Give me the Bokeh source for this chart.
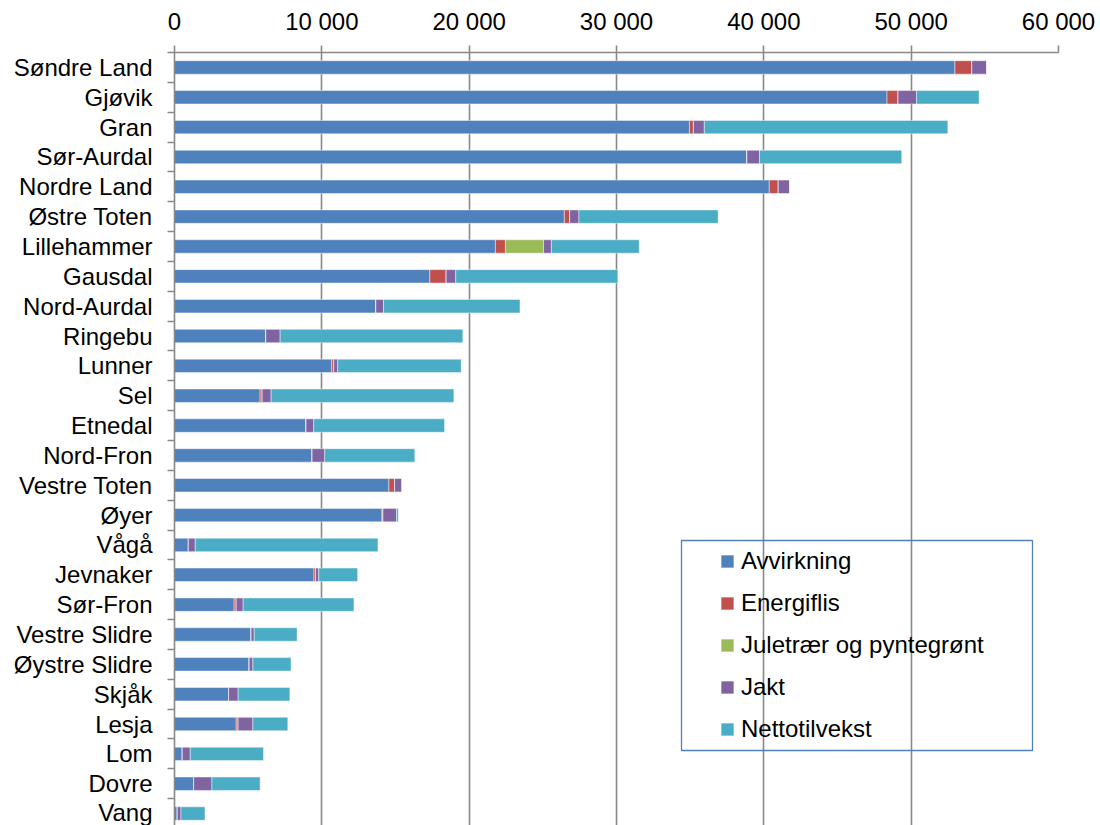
from bokeh.plotting import figure
from bokeh.models import (ColumnDataSource, Range1d, FixedTicker, Legend, LegendItem,
                          BoxAnnotation)
from bokeh.embed import file_html
from bokeh.resources import INLINE

categories = ["Søndre Land", "Gjøvik", "Gran", "Sør-Aurdal", "Nordre Land", "Østre Toten",
              "Lillehammer", "Gausdal", "Nord-Aurdal", "Ringebu", "Lunner", "Sel", "Etnedal",
              "Nord-Fron", "Vestre Toten", "Øyer", "Vågå", "Jevnaker", "Sør-Fron",
              "Vestre Slidre", "Øystre Slidre", "Skjåk", "Lesja", "Lom", "Dovre", "Vang"]

avvirkning = [52970, 48360, 34950, 38850, 40370, 26460, 21780, 17330, 13670, 6200, 10670, 5810,
              8930, 9340, 14550, 14080, 940, 9470, 4050, 5200, 5070, 3670, 4190, 530, 1300, 190]
energiflis = [1150, 750, 270, 0, 610, 360, 680, 1110, 0, 0, 140, 140, 0, 0, 390, 70, 0, 100,
              140, 0, 0, 0, 130, 0, 0, 0]
juletraer = [0, 0, 0, 0, 0, 0, 2590, 0, 0, 0, 0, 0, 0, 0, 0, 0, 0, 0, 0, 0, 0, 0, 0, 0, 0, 0]
jakt = [1000, 1250, 740, 860, 770, 630, 530, 650, 520, 970, 270, 610, 520, 860, 490, 920, 470,
        220, 470, 210, 250, 650, 1000, 540, 1240, 250]
nettotilvekst = [0, 4250, 16530, 9650, 0, 9450, 5960, 11000, 9260, 12400, 8380, 12400, 8880,
                 6110, 0, 120, 12400, 2640, 7520, 2910, 2590, 3510, 2370, 4970, 3270, 1630]

series_names = ["Avvirkning", "Energiflis", "Juletrær og pyntegrønt", "Jakt", "Nettotilvekst"]
series_colors = ["#4F81BD", "#C0504D", "#9BBB59", "#8064A2", "#4BACC6"]

x_ticks = [0, 10000, 20000, 30000, 40000, 50000, 60000]
x_tick_labels = ["0", "10 000", "20 000", "30 000", "40 000", "50 000", "60 000"]

n = len(categories)
pos = [n - 1 - i for i in range(n)]
keys = ["avv", "ene", "jul", "jak", "net"]

source = ColumnDataSource(data=dict(pos=pos, cat=categories, avv=avvirkning, ene=energiflis,
                                    jul=juletraer, jak=jakt, net=nettotilvekst))

FONT = "Liberation Sans"
FS = "24px"

p = figure(width=1100, height=825, output_backend="svg", toolbar_location=None,
           x_axis_location="above",
           x_range=Range1d(0, 60000), y_range=Range1d(-0.4, n - 0.5),
           min_border_left=174, min_border_right=42, min_border_top=52, min_border_bottom=0)
p.outline_line_color = None
p.background_fill_color = "white"

renderers = p.hbar_stack(keys, y="pos", height=0.45, color=series_colors, source=source,
                         line_color="white", line_alpha=0.45, line_width=1)

# grid
p.ygrid.visible = False
p.xgrid.ticker = FixedTicker(ticks=x_ticks)
p.xgrid.grid_line_color = "#888888"
p.xgrid.grid_line_width = 1.6

# x axis (top)
xa = p.xaxis[0]
xa.ticker = FixedTicker(ticks=x_ticks)
xa.major_label_overrides = {t: l for t, l in zip(x_ticks, x_tick_labels)}
xa.axis_line_color = "#888888"
xa.axis_line_width = 1.6
xa.major_tick_line_color = "#888888"
xa.major_tick_line_width = 1.6
xa.major_tick_out = 7
xa.major_tick_in = 0
xa.minor_tick_line_color = None
xa.major_label_text_font = FONT
xa.major_label_text_font_size = FS
xa.major_label_text_color = "black"
xa.major_label_standoff = 11

# y axis (left)
ya = p.yaxis[0]
ya.ticker = FixedTicker(ticks=pos, minor_ticks=[i - 0.5 for i in range(n + 1)])
ya.major_label_overrides = {pp: c for pp, c in zip(pos, categories)}
ya.axis_line_color = "#888888"
ya.axis_line_width = 1.6
ya.major_tick_line_color = None
ya.major_tick_out = 0
ya.major_tick_in = 0
ya.minor_tick_line_color = "#888888"
ya.minor_tick_line_width = 1.6
ya.minor_tick_out = 7
ya.minor_tick_in = 0
ya.major_label_text_font = FONT
ya.major_label_text_font_size = FS
ya.major_label_text_color = "black"
ya.major_label_standoff = 15

# legend
items = [LegendItem(label=name, renderers=[r]) for name, r in zip(series_names, renderers)]
legend = Legend(items=items, location=(545, 82), padding=8, spacing=14,
                label_height=26, glyph_height=16, glyph_width=16, label_standoff=6,
                label_text_font=FONT, label_text_font_size=FS, label_text_color="black",
                border_line_color=None, background_fill_alpha=0)
p.add_layout(legend, "center")

frame_box = BoxAnnotation(left=507, right=858, bottom=75, top=285,
                          left_units="screen", right_units="screen",
                          bottom_units="screen", top_units="screen",
                          fill_alpha=0, line_color="#4F81BD", line_alpha=1, line_width=1.3)
p.add_layout(frame_box)

open("out.html", "w").write(file_html(p, INLINE))
